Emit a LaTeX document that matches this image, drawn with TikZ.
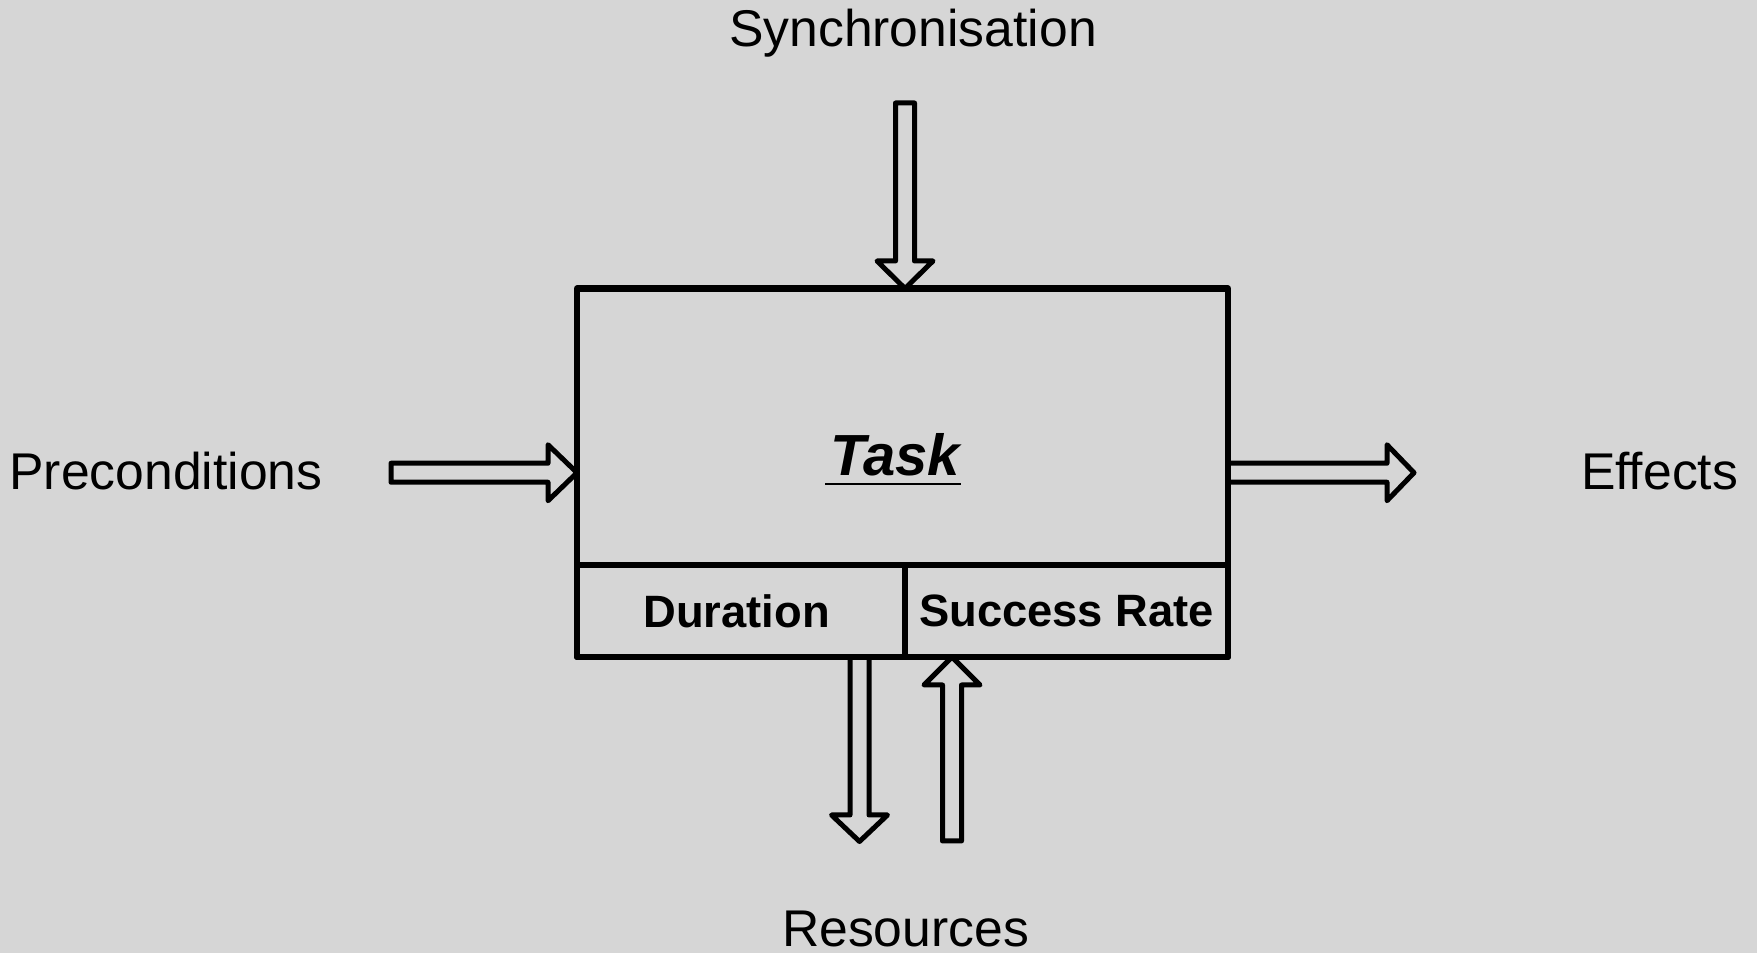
\documentclass[tikz,border=0pt]{standalone}
\usepackage{fontspec}
\setmainfont{Liberation Sans}
\usetikzlibrary{calc}
\definecolor{bgcol}{RGB}{214,214,214}
\tikzset{
  boxline/.style={draw=black, line width=0.62mm, line join=round, inner sep=0pt, outer sep=0pt},
  fatarrow/.style={draw=black, line width=0.5mm, line join=round, line cap=round},
  lbl/.style={font=\fontsize{14.7pt}{16pt}\selectfont, inner sep=0pt, anchor=base},
  cell/.style={boxline, font=\fontsize{12.9pt}{14pt}\selectfont\bfseries},
}
\begin{document}
\begin{tikzpicture}[x=0.1mm, y=-0.1mm]
\fill[bgcol] (0,0) rectangle (1757,953);
\useasboundingbox (0,0) rectangle (1757,953);

% main box
\node[boxline, rectangle, minimum width=65.1mm, minimum height=36.85mm] (task) at (902.5,472.75) {};
\node[cell, rectangle, minimum width=32.8mm, minimum height=9.2mm] (dur) at (741,611) {\hspace*{-0.9mm}Duration};
\node[cell, rectangle, minimum width=32.3mm, minimum height=9.2mm] (succ) at (1066.5,611) {Success Rate};

% task label
\node[inner sep=0pt, anchor=base, font=\fontsize{16.5pt}{18pt}\selectfont\bfseries\itshape] (tasktext) at (895,476) {Task};
\draw[line width=0.22mm] ([xshift=-0.4mm, yshift=-0.8mm]tasktext.base west) -- ([yshift=-0.8mm]tasktext.base east);

% outer labels
\node[lbl] (sync) at (913,47) {Synchronisation};
\node[lbl] (pre) at (166,489.5) {Preconditions};
\node[lbl] (eff) at (1659.5,489.5) {Effects};
\node[lbl] (res) at (905.5,946) {Resources};

% anchor coordinates on the box
\coordinate (syncin) at (905,288.5);
\coordinate (resout) at (859.5,657);
\coordinate (resin) at (952,657);

% left arrow (preconditions)
\draw[fatarrow] ($(task.west)+(-186,-9.5)$) -- ($(task.west)+(-29,-9.5)$) -- ($(task.west)+(-29,-28)$)
  -- (task.west) -- ($(task.west)+(-29,28)$) -- ($(task.west)+(-29,9.5)$) -- ($(task.west)+(-186,9.5)$) -- cycle;

% right arrow (effects)
\draw[fatarrow] ($(task.east)+(0,-9.5)$) -- ($(task.east)+(159,-9.5)$) -- ($(task.east)+(159,-28)$)
  -- ($(task.east)+(186,0)$) -- ($(task.east)+(159,28)$) -- ($(task.east)+(159,9.5)$) -- ($(task.east)+(0,9.5)$);

% top arrow (synchronisation)
\draw[fatarrow] ($(syncin)+(-9.5,-185.5)$) -- ($(syncin)+(-9.5,-27.5)$) -- ($(syncin)+(-28,-27.5)$)
  -- (syncin) -- ($(syncin)+(28,-27.5)$) -- ($(syncin)+(9.5,-27.5)$) -- ($(syncin)+(9.5,-185.5)$) -- cycle;

% down arrow (resources out)
\draw[fatarrow] ($(resout)+(-9.5,0)$) -- ($(resout)+(-9.5,158)$) -- ($(resout)+(-28,158)$)
  -- ($(resout)+(0,184.5)$) -- ($(resout)+(28,158)$) -- ($(resout)+(9.5,158)$) -- ($(resout)+(9.5,0)$);

% up arrow (resources in)
\draw[fatarrow] ($(resin)+(-9.5,184)$) -- ($(resin)+(-9.5,28)$) -- ($(resin)+(-28,28)$)
  -- (resin) -- ($(resin)+(28,28)$) -- ($(resin)+(9.5,28)$) -- ($(resin)+(9.5,184)$) -- cycle;
\end{tikzpicture}
\end{document}
